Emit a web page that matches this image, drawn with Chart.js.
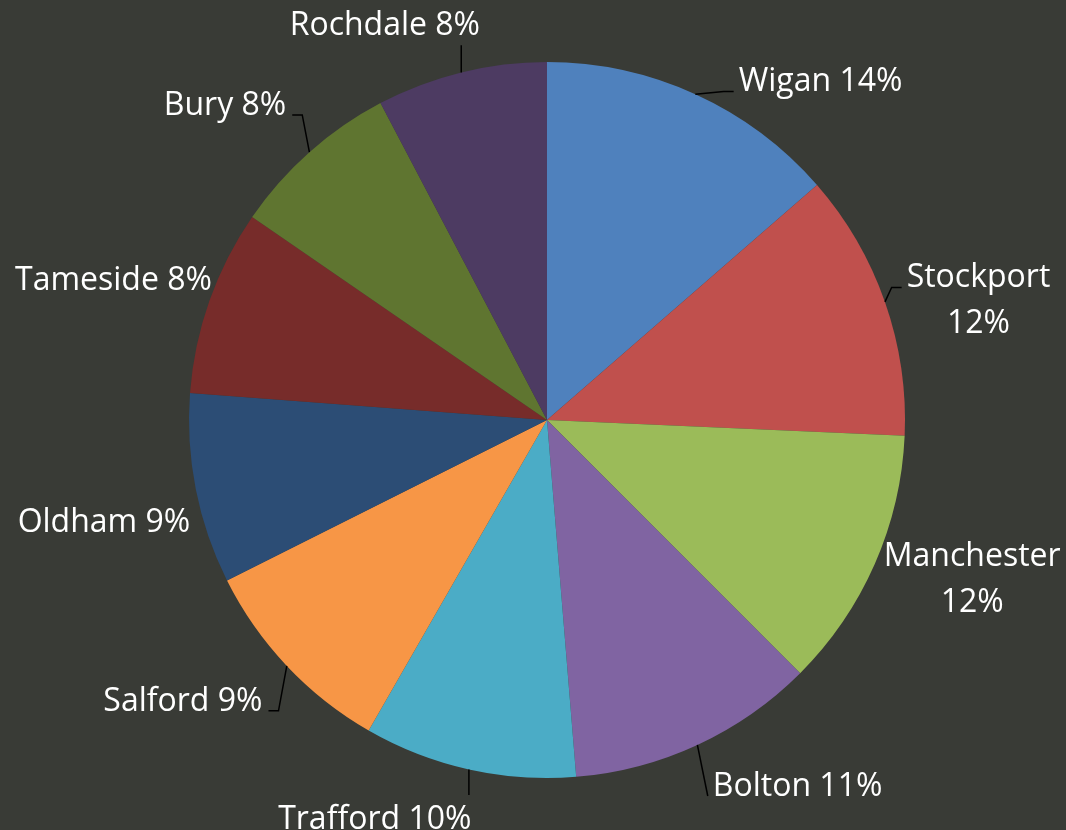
<!DOCTYPE html>
<html>
<head>
<meta charset="utf-8">
<script src="https://cdn.jsdelivr.net/npm/chart.js@4.4.0/dist/chart.umd.min.js"></script>
<style>
  html, body { margin: 0; padding: 0; background: #393b36; }
  #wrap { width: 1066px; height: 830px; }
</style>
</head>
<body>
<div id="wrap"><canvas id="boroughChart" width="1066" height="830"></canvas></div>
<script>
// ============================
// DATA
// ============================
const boroughs = ["Wigan", "Stockport", "Manchester", "Bolton", "Trafford",
                  "Salford", "Oldham", "Tameside", "Bury", "Rochdale"];
const shares = [13.6, 12.1, 11.8, 11.2, 9.6, 9.3, 8.6, 8.4, 7.7, 7.7];   // % of total

const sliceColors = ["#4f81bd", "#c0504d", "#9bbb59", "#8064a2", "#4bacc6",
                     "#f79646", "#2c4d75", "#772c2a", "#5f7530", "#4d3b62"];

// labels were dragged around in the original, so nudge them (px)
const labelNudge = [[103, 35], [12, 26], [4, -27], [77, -10], [-85, 8],
                    [-50, -17], [0, 14], [2, 13], [-46, -5], [-66, -6]];

const FONT_SIZE = 32;
const CAP = 22;        // cap height of the label font
const LINE_GAP = 46;   // distance between baselines of wrapped labels
const GAP = 6;

// ============================
// OUTSIDE LABELS + LEADER LINES
// ============================
const pieLabels = {
    id: "pieLabels",
    afterDatasetsDraw(chart) {
        const ctx = chart.ctx;
        const arcs = chart.getDatasetMeta(0).data;
        ctx.save();
        ctx.font = FONT_SIZE + "px 'Open Sans'";
        ctx.textAlign = "center";
        ctx.textBaseline = "alphabetic";

        arcs.forEach((arc, i) => {
            const { x, y, startAngle, endAngle, outerRadius } =
                arc.getProps(["x", "y", "startAngle", "endAngle", "outerRadius"], true);
            const mid = (startAngle + endAngle) / 2;
            const dx = Math.cos(mid), dy = Math.sin(mid);
            const pct = Math.round(shares[i]) + "%";

            const place = lines => {
                const w = Math.max(...lines.map(l => ctx.measureText(l).width));
                const h = CAP + (lines.length - 1) * LINE_GAP + 8;
                const ext = Math.abs(dx) * w / 2 + Math.abs(dy) * h / 2;
                const d = outerRadius + GAP + ext;
                return { lines, w, h,
                         cx: x + dx * d + labelNudge[i][0],
                         cy: y + dy * d + labelNudge[i][1] };
            };

            let lab = place([boroughs[i] + " " + pct]);
            if (lab.cx + lab.w / 2 > chart.width || lab.cx - lab.w / 2 < 0) {
                lab = place([boroughs[i], pct]);   // wrap like Excel does
            }

            const blockH = CAP + (lab.lines.length - 1) * LINE_GAP;
            const base1 = lab.cy - blockH / 2 + CAP;

            // leader line
            const P = { x: x + dx * outerRadius, y: y + dy * outerRadius };
            const x0 = lab.cx - lab.w / 2, x1 = lab.cx + lab.w / 2;
            const top = lab.cy - lab.h / 2, bot = lab.cy + lab.h / 2;
            const ddx = Math.max(x0 - P.x, 0, P.x - x1);
            const ddy = Math.max(top - P.y, 0, P.y - bot);
            if (Math.hypot(ddx, ddy) > 19) {
                ctx.strokeStyle = "#000";
                ctx.lineWidth = 1.5;
                ctx.beginPath();
                ctx.moveTo(P.x, P.y);
                if (P.x >= x0 - 10 && P.x <= x1 + 10) {
                    ctx.lineTo(P.x, P.y < top ? top - 8 : bot + 6);
                } else if (P.x < x0) {
                    if (x0 - 15 > P.x + 3) ctx.lineTo(x0 - 15, base1);
                    ctx.lineTo(x0 - 5, base1);
                } else {
                    ctx.lineTo(x1 + 16, base1);
                    ctx.lineTo(x1 + 6, base1);
                }
                ctx.stroke();
            }

            ctx.fillStyle = "#ffffff";
            lab.lines.forEach((l, k) => ctx.fillText(l, lab.cx, base1 + k * LINE_GAP));
        });
        ctx.restore();
    }
};

// ============================
// PIE CHART
// ============================
const ctx = document.getElementById("boroughChart").getContext("2d");
new Chart(ctx, {
    type: "pie",
    data: {
        labels: boroughs,
        datasets: [{
            data: shares,
            backgroundColor: sliceColors,
            borderWidth: 0
        }]
    },
    options: {
        responsive: false,
        animation: false,
        layout: { padding: { top: 62, bottom: 52, left: 189, right: 161 } },
        plugins: {
            legend: { display: false },
            tooltip: { enabled: false }
        }
    },
    plugins: [pieLabels]
});
</script>
</body>
</html>
